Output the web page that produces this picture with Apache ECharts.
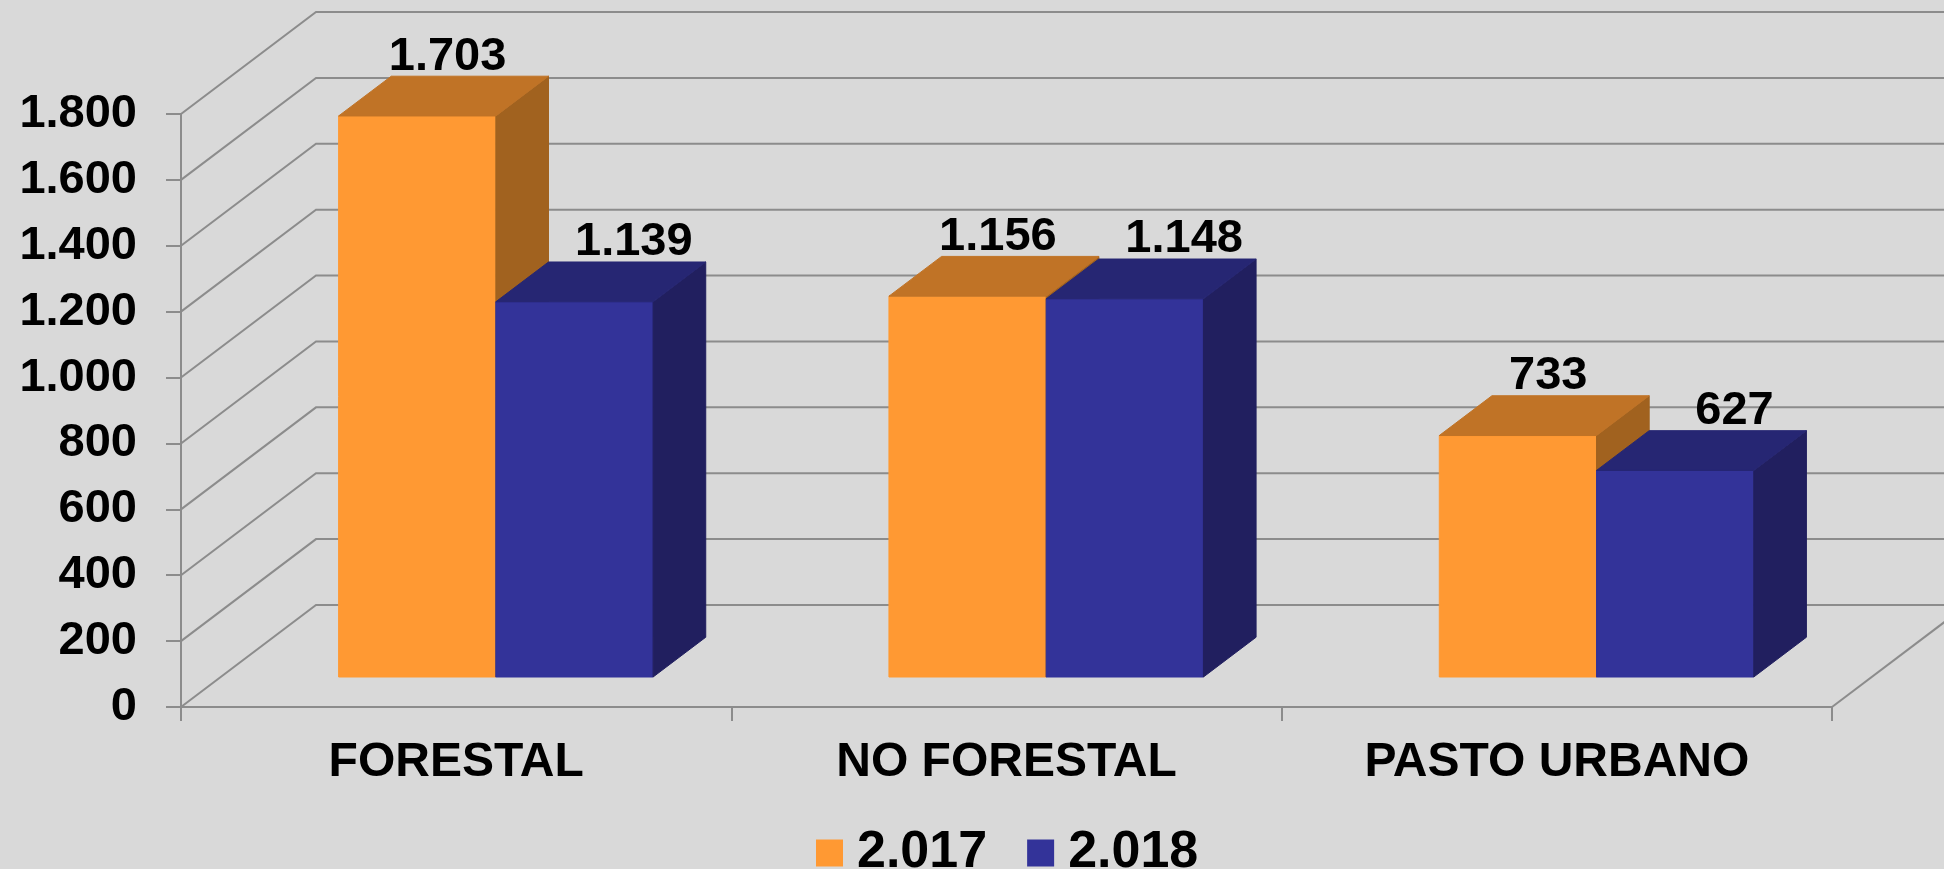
<!DOCTYPE html>
<html>
<head>
<meta charset="utf-8">
<script src="https://cdn.jsdelivr.net/npm/echarts@6/dist/echarts.min.js"></script>
<style>
  html, body { margin: 0; padding: 0; background: #d9d9d9; }
  #chart { width: 1944px; height: 869px; }
</style>
</head>
<body>
<div id="chart"></div>
<script>
// data
const categories = ['FORESTAL', 'NO FORESTAL', 'PASTO URBANO'];
const seriesNames = ['2.017', '2.018'];
const values2017 = [1703, 1156, 733];
const values2018 = [1139, 1148, 627];
const yTicks = [0, 200, 400, 600, 800, 1000, 1200, 1400, 1600, 1800];

// oblique 3d look: depth of the floor and where bars sit in it
const DX = 135, DY = -102;
const F0 = 0.294, F1 = 0.684;
const FONT = '"Liberation Sans", Arial, sans-serif';

function fmt(v) {
    if (v < 1000) return String(v);
    return Math.floor(v / 1000) + '.' + String(v % 1000).padStart(3, '0');
}

function makeBar(name, values, colors, side, labelShift) {
    return {
        name: name,
        type: 'custom',
        z: 3,
        itemStyle: { color: colors.front },
        data: values.map((v, i) => [i, v]),
        encode: { x: 0, y: 1 },
        renderItem(params, api) {
            const idx = api.value(0);
            const val = api.value(1);
            const c0 = api.coord([idx, 0]);
            const c1 = api.coord([idx, val]);
            const w = api.size([1, 0])[0] / 3.5;
            const xl = c0[0] + (side - 1) * w;
            const xr = xl + w;
            const fx = DX * F0, fy = DY * F0, bx = DX * F1, by = DY * F1;
            const yb = c0[1], yt = c1[1];
            return {
                type: 'group',
                children: [
                    {
                        type: 'polygon',
                        shape: { points: [[xl + fx, yb + fy], [xr + fx, yb + fy], [xr + fx, yt + fy], [xl + fx, yt + fy]] },
                        style: { fill: colors.front, stroke: colors.front, lineWidth: 1 }
                    },
                    {
                        type: 'polygon',
                        shape: { points: [[xr + fx, yb + fy], [xr + bx, yb + by], [xr + bx, yt + by], [xr + fx, yt + fy]] },
                        style: { fill: colors.side, stroke: colors.side, lineWidth: 1 }
                    },
                    {
                        type: 'polygon',
                        shape: { points: [[xl + fx, yt + fy], [xr + fx, yt + fy], [xr + bx, yt + by], [xl + bx, yt + by]] },
                        style: { fill: colors.top, stroke: colors.top, lineWidth: 1 }
                    },
                    {
                        type: 'text',
                        z2: 10,
                        style: {
                            text: fmt(val),
                            x: (xl + xr) / 2 + (fx + bx) / 2 + labelShift,
                            y: yt + by + 4,
                            align: 'center',
                            verticalAlign: 'bottom',
                            font: 'bold 47px ' + FONT,
                            fill: '#000'
                        }
                    }
                ]
            };
        }
    };
}

const chart = echarts.init(document.getElementById('chart'), null, { renderer: 'canvas' });

const option = {
    backgroundColor: '#d9d9d9',
    animation: false,
    grid: { left: 181, right: 112, top: 114, bottom: 162 },
    legend: {
        data: seriesNames,
        left: 811,
        top: 822,
        itemWidth: 27,
        itemHeight: 27,
        itemGap: 40,
        icon: 'rect',
        textStyle: { fontFamily: FONT, fontWeight: 'bold', fontSize: 52, color: '#000', padding: [0, 0, 0, 9] }
    },
    xAxis: {
        type: 'category',
        data: categories,
        axisLine: { lineStyle: { color: '#8c8c8c', width: 2 } },
        axisTick: { show: true, length: 14, lineStyle: { color: '#8c8c8c', width: 2 } },
        axisLabel: { margin: 32, fontFamily: FONT, fontWeight: 'bold', fontSize: 48, color: '#000' },
        splitLine: { show: false }
    },
    yAxis: {
        type: 'value',
        min: 0,
        max: 1800,
        interval: 200,
        axisLine: { show: true, lineStyle: { color: '#8c8c8c', width: 2 } },
        axisTick: { show: true, length: 15, lineStyle: { color: '#8c8c8c', width: 2 } },
        axisLabel: { margin: 44, fontFamily: FONT, fontWeight: 'bold', fontSize: 47, color: '#000', formatter: fmt, padding: [4, 0, 0, 0] },
        splitLine: { show: false }
    },
    series: [
        {
            name: 'walls',
            type: 'custom',
            silent: true,
            z: 1,
            data: yTicks.map(v => [0, v]),
            encode: { x: 0, y: 1 },
            renderItem(params, api) {
                const y = api.coord([0, api.value(1)])[1];
                const r = params.coordSys;
                const x0 = r.x, x1 = r.x + r.width;
                const lineStyle = { stroke: '#8c8c8c', lineWidth: 2, fill: null };
                const children = [{
                    type: 'polyline',
                    shape: { points: [[x0, y], [x0 + DX, y + DY], [x1 + DX, y + DY]] },
                    style: lineStyle
                }];
                if (api.value(1) === 0) {
                    children.push({
                        type: 'polyline',
                        shape: { points: [[x1, y], [x1 + DX, y + DY]] },
                        style: lineStyle
                    });
                }
                return { type: 'group', children: children };
            }
        },
        makeBar(seriesNames[0], values2017, { front: '#ff9933', top: '#c07326', side: '#a1621f' }, 0, 4),
        makeBar(seriesNames[1], values2018, { front: '#333399', top: '#262673', side: '#211f5f' }, 1, 33)
    ]
};

chart.setOption(option);
</script>
</body>
</html>
